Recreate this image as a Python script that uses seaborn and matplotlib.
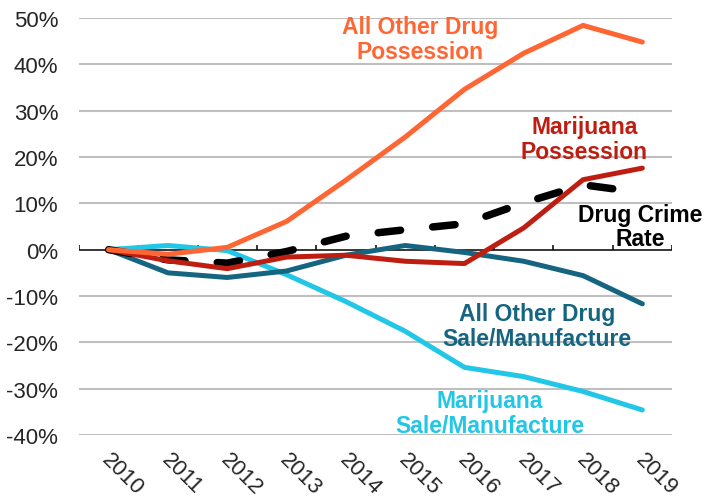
import numpy as np
import pandas as pd
import matplotlib
matplotlib.use("Agg")
import matplotlib.pyplot as plt
import matplotlib.transforms as mtransforms
import seaborn as sns

years = ["2010", "2011", "2012", "2013", "2014", "2015", "2016", "2017", "2018", "2019"]
other_possession = [0.0, -1.0, 0.5, 6.1, 15.0, 24.3, 34.6, 42.4, 48.4, 44.8]
mj_possession = [0.0, -2.4, -4.1, -1.6, -1.2, -2.5, -3.0, 4.7, 15.1, 17.6]
crime_rate = [0.0, -2.2, -2.9, -0.4, 2.9, 4.3, 5.6, 10.1, 14.0, 12.3]
other_sale = [0.0, -5.0, -6.0, -4.6, -1.2, 0.9, -0.6, -2.5, -5.6, -11.7]
mj_sale = [0.0, 0.9, -0.2, -5.4, -11.2, -17.6, -25.4, -27.4, -30.6, -34.6]
y_ticks = [-40, -30, -20, -10, 0, 10, 20, 30, 40, 50]

C_ORANGE = "#FF6633"
C_RED = "#BE1E12"
C_TEAL = "#156580"
C_CYAN = "#22C6E6"

sns.set_style("white")
plt.rcParams["font.family"] = ["Liberation Sans", "DejaVu Sans"]

fig = plt.figure(figsize=(7.08, 5.02), dpi=100)
ax = fig.add_axes([79 / 708, 1 - 436 / 502, (672 - 79) / 708, (436 - 19) / 502])

x = np.arange(len(years))
df = pd.DataFrame({
    "x": x,
    "other_possession": other_possession,
    "mj_possession": mj_possession,
    "crime_rate": crime_rate,
    "other_sale": other_sale,
    "mj_sale": mj_sale,
})

# gridlines
for t in y_ticks:
    if t != 0:
        ax.axhline(t, color="#BFBFBF", lw=1.5, zorder=0)

# zero axis line with boundary tick marks
ax.axhline(0, color="black", lw=1.1, zorder=0.5)
ax.vlines(np.arange(-0.5, len(years)), 0, 1.0, color="black", lw=1.1, zorder=0.5)

lw = 3.6
sns.lineplot(data=df, x="x", y="mj_sale", color=C_CYAN, lw=lw, ax=ax, zorder=1,
             solid_capstyle="round")
sns.lineplot(data=df, x="x", y="other_sale", color=C_TEAL, lw=lw, ax=ax, zorder=2,
             solid_capstyle="round")
sns.lineplot(data=df, x="x", y="crime_rate", color="black", lw=5.4, ax=ax, zorder=3)
ax.lines[-1].set_dashes([3.0, 4.3])
ax.lines[-1].set_dash_capstyle("round")
sns.lineplot(data=df, x="x", y="mj_possession", color=C_RED, lw=lw, ax=ax, zorder=4,
             solid_capstyle="round")
sns.lineplot(data=df, x="x", y="other_possession", color=C_ORANGE, lw=lw, ax=ax, zorder=5,
             solid_capstyle="round")

ax.set_xlim(-0.5, len(years) - 0.5)
ax.set_ylim(-40, 50)
ax.set_yticks(y_ticks)
ax.set_yticklabels([f"{t}%" for t in y_ticks], fontsize=16)
ax.set_xticks(x)
ax.set_xticklabels(years, fontsize=16, rotation=-45, rotation_mode="anchor",
                   ha="left", va="top")
ax.tick_params(axis="both", length=0)
ax.tick_params(axis="y", pad=15)
ax.tick_params(axis="x", pad=10)
offset = mtransforms.ScaledTranslation(4 / 100, 0, fig.dpi_scale_trans)
for lbl in ax.get_xticklabels():
    lbl.set_transform(lbl.get_transform() + offset)
ax.set_xlabel("")
ax.set_ylabel("")
for s in ax.spines.values():
    s.set_visible(False)
ax.set_facecolor("none")

fs = 16.5
ax.text(5.25, 45.4, "All Other Drug\nPossession", color=C_ORANGE, fontsize=fs,
        fontweight="bold", ha="center", va="center", linespacing=1.1)
ax.text(8.02, 23.8, "Marijuana\nPossession", color=C_RED, fontsize=fs,
        fontweight="bold", ha="center", va="center", linespacing=1.1)
ax.text(8.97, 5.0, "Drug Crime\nRate", color="black", fontsize=fs,
        fontweight="bold", ha="center", va="center", linespacing=1.1, clip_on=False)
ax.text(7.22, -16.4, "All Other Drug\nSale/Manufacture", color=C_TEAL, fontsize=fs,
        fontweight="bold", ha="center", va="center", linespacing=1.1)
ax.text(6.43, -35.2, "Marijuana\nSale/Manufacture", color=C_CYAN, fontsize=fs,
        fontweight="bold", ha="center", va="center", linespacing=1.1)

fig.savefig("out.png", dpi=100)
